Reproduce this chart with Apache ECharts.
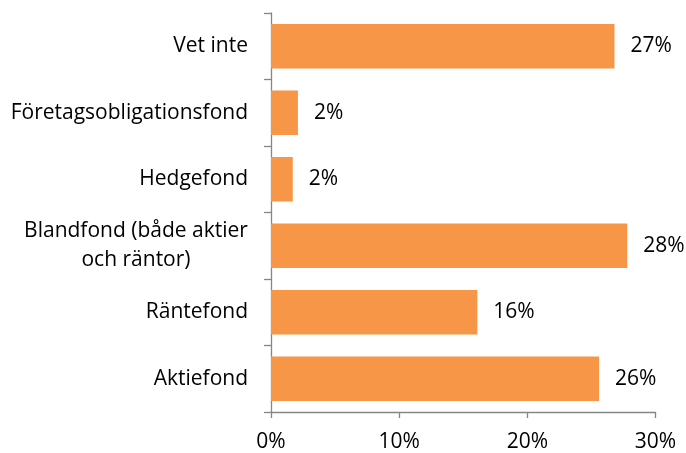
<!DOCTYPE html>
<html><head><meta charset="utf-8">
<script src="https://cdn.jsdelivr.net/npm/echarts@6/dist/echarts.min.js"></script>
<style>html,body{margin:0;padding:0;background:#fff}#c{width:686px;height:453px}</style>
</head><body><div id="c"></div>
<script>
const categories = ["Aktiefond", "Räntefond", "Blandfond (både aktier\noch räntor)", "Hedgefond", "Företagsobligationsfond", "Vet inte"];
const values = [25.6, 16.1, 27.8, 1.7, 2.1, 26.8];
const xTicks = [0, 10, 20, 30];

const FONT = "Open Sans";
const FS = 21;
const ctx = document.createElement('canvas').getContext('2d');
ctx.font = FS + 'px "' + FONT + '"';
function lineW(label) { return Math.max(...label.split('\n').map(s => ctx.measureText(s).width)); }

const chart = echarts.init(document.getElementById('c'));
chart.setOption({
  animation: false,
  grid: {left: 271, right: 30.5, top: 13, bottom: 41, containLabel: false},
  xAxis: {
    type: 'value', min: 0, max: 30, interval: 10,
    axisLine: {show: true, lineStyle: {color: '#868686', width: 1.3}},
    axisTick: {show: true, length: 6, lineStyle: {color: '#868686', width: 1.3}},
    splitLine: {show: false},
    axisLabel: {color: '#000', fontFamily: FONT, fontSize: FS, margin: 20,
      formatter: v => xTicks.includes(v) ? v + '%' : ''}
  },
  yAxis: {
    type: 'category', data: categories,
    axisLine: {show: true, lineStyle: {color: '#868686', width: 1.3}},
    axisTick: {show: true, length: 7, alignWithLabel: false, lineStyle: {color: '#868686', width: 1.3}},
    axisLabel: {color: '#000', fontFamily: FONT, fontSize: FS, margin: 23, lineHeight: 29,
      formatter: v => {
        if (!v.includes('\n')) return v;
        const w = Math.ceil(lineW(v));
        return v.split('\n').map(s => '{m' + w + '|' + s + '}').join('\n');
      },
      rich: Object.fromEntries(categories.filter(c => c.includes('\n')).map(c => {
        const w = Math.ceil(lineW(c));
        return ['m' + w, {width: w, align: 'center', fontFamily: FONT, fontSize: FS, color: '#000', lineHeight: 29}];
      }))}
  },
  series: [{
    type: 'bar', data: values, barCategoryGap: '33%',
    itemStyle: {color: '#F79646'},
    label: {show: true, position: 'right', distance: 16, color: '#000', fontFamily: FONT, fontSize: FS,
      formatter: p => Math.round(p.value) + '%'}
  }]
});
</script></body></html>
